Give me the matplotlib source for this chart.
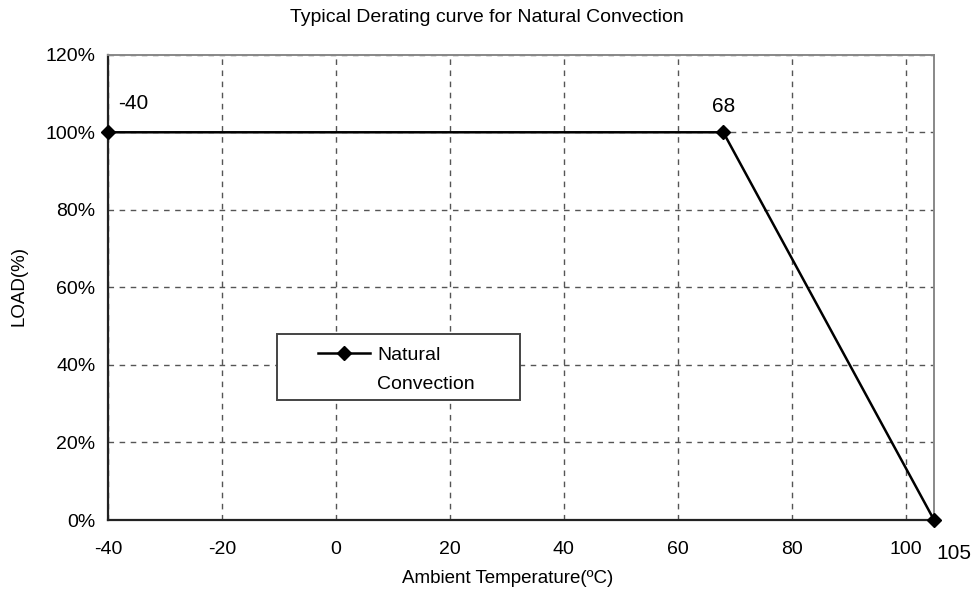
import matplotlib
matplotlib.use('Agg')
import matplotlib.pyplot as plt
from matplotlib.ticker import FuncFormatter
from matplotlib.patches import Rectangle
from matplotlib.lines import Line2D

# ------------- Datos -------------
temp = [-40, 68, 105]          # temperatura ambiente (C)
load = [1.0, 1.0, 0.0]          # carga (fraccion)
point_labels = ['-40', '68', '105']
xticks = [-40, -20, 0, 20, 40, 60, 80, 100]
yticks = [0, 0.2, 0.4, 0.6, 0.8, 1.0, 1.2]

plt.rcParams['font.family'] = ['Liberation Sans', 'DejaVu Sans']
plt.rcParams['axes.unicode_minus'] = False

fig = plt.figure(figsize=(9.74, 5.95), dpi=100)
ax = fig.add_axes([0.111, 0.126, 0.848, 0.782])

ax.plot(temp, load, color='black', lw=1.8, marker='D', ms=7, label='Natural\nConvection',
        clip_on=False, zorder=5)

ax.set_xlim(-40, 105)
ax.set_ylim(0, 1.2)
ax.set_xticks(xticks)
ax.set_yticks(yticks)
ax.yaxis.set_major_formatter(FuncFormatter(lambda v, p: f"{int(round(v*100))}%"))
ax.tick_params(labelsize=14, length=0)
ax.tick_params(axis='x', pad=15)
ax.tick_params(axis='y', pad=9)
ax.grid(True, ls=(0, (4, 4)), color='#555555', lw=1.0)

for s in ['left', 'bottom']:
    ax.spines[s].set_color('#222222'); ax.spines[s].set_linewidth(1.6)
for s in ['top', 'right']:
    ax.spines[s].set_color('#888888'); ax.spines[s].set_linewidth(1.4)

# etiquetas de puntos
ax.annotate(point_labels[0], (temp[0], load[0]), xytext=(7, 14), textcoords='offset points',
            fontsize=15, ha='left', va='bottom')
ax.annotate(point_labels[1], (temp[1], load[1]), xytext=(0, 12), textcoords='offset points',
            fontsize=15, ha='center', va='bottom')
ax.annotate(point_labels[2], (temp[2], load[2]), xytext=(14, -17), textcoords='offset points',
            fontsize=15, ha='center', va='top', annotation_clip=False)

# leyenda con marco propio
ax.add_patch(Rectangle((0.205, 0.258), 0.294, 0.142, transform=ax.transAxes, fill=True,
                       facecolor='white', edgecolor='#444444', lw=1.4, zorder=6))
leg = ax.legend(loc='center left', bbox_to_anchor=(0.254, 0.3225), fontsize=14, frameon=False,
                handlelength=2.7, handletextpad=0.35, borderpad=0, borderaxespad=0)
leg.set_zorder(7)
for t in leg.get_texts():
    t.set_linespacing(1.9)
for ln in leg.findobj(Line2D):
    ln.set_ydata([y + 12 for y in ln.get_ydata()])

fig.text(0.5, 0.971, 'Typical Derating curve for Natural Convection', ha='center', va='center', fontsize=14)
fig.text(0.521, 0.028, 'Ambient Temperature(ºC)', ha='center', va='center', fontsize=13.5)
fig.text(0.02, 0.52, 'LOAD(%)', ha='center', va='center', rotation=90, fontsize=13.5)

fig.savefig('out.png', dpi=100)
